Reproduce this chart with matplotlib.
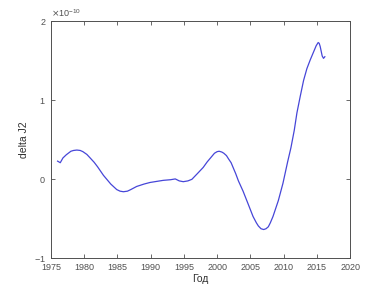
import numpy as np
import matplotlib
matplotlib.use('Agg')
import matplotlib.pyplot as plt
from matplotlib.ticker import ScalarFormatter

plt.rcParams['font.family'] = ['Liberation Sans', 'DejaVu Sans']

# values (delta J2 in units of 1e-10)
years = [1976.0, 1976.4, 1976.8, 1977.3, 1978.0, 1978.4, 1978.9, 1979.4, 1979.8, 1980.4,
         1980.9, 1981.5, 1982.0, 1982.9, 1984.0, 1984.9, 1985.4, 1985.9, 1986.5, 1987.0,
         1987.9, 1989.0, 1989.9, 1991.0, 1991.9, 1993.0, 1993.7, 1994.3, 1994.9, 1995.6,
         1996.2, 1997.0, 1997.9, 1998.5, 1999.2, 1999.6, 2000.0, 2000.3, 2000.7, 2001.0,
         2001.4, 2001.7, 2002.1, 2002.4, 2002.8, 2003.2, 2003.9, 2004.7, 2005.4, 2005.9,
         2006.2, 2006.6, 2007.0, 2007.35, 2007.7, 2008.0, 2008.4, 2008.8, 2009.2, 2009.9,
         2010.6, 2011.1, 2011.6, 2012.0, 2012.5, 2013.0, 2013.5, 2014.0, 2014.6, 2014.9,
         2015.2, 2015.35, 2015.5, 2015.8, 2016.0, 2016.2]
dj2 = [0.23, 0.21, 0.27, 0.31, 0.355, 0.365, 0.37, 0.365, 0.35, 0.315,
       0.27, 0.215, 0.16, 0.05, -0.06, -0.13, -0.15, -0.157, -0.15, -0.13,
       -0.09, -0.06, -0.04, -0.025, -0.013, -0.005, 0.005, -0.02, -0.03, -0.02,
       0.0, 0.07, 0.15, 0.22, 0.29, 0.33, 0.35, 0.355, 0.345, 0.33,
       0.3, 0.26, 0.21, 0.15, 0.07, -0.02, -0.15, -0.32, -0.47, -0.55,
       -0.59, -0.625, -0.635, -0.625, -0.6, -0.55, -0.47, -0.37, -0.27, -0.05,
       0.22, 0.4, 0.62, 0.84, 1.05, 1.25, 1.4, 1.51, 1.63, 1.69,
       1.73, 1.72, 1.68, 1.56, 1.53, 1.55]
xticks = [1975, 1980, 1985, 1990, 1995, 2000, 2005, 2010, 2015, 2020]
yticks = [-1, 0, 1, 2]

X = np.array(years)
Y = np.array(dj2) * 1e-10

fig = plt.figure(figsize=(3.86, 2.90), dpi=100)
ax = fig.add_axes([0.132, 0.109, 0.775, 0.818])
ax.plot(X, Y, '-', color='#4646d8', lw=0.9)
ax.set_xlim(1975, 2020)
ax.set_ylim(-1e-10, 2e-10)
ax.set_xticks(xticks)
ax.set_yticks([v * 1e-10 for v in yticks])
fmt = ScalarFormatter(useMathText=True)
fmt.set_powerlimits((0, 0))
ax.yaxis.set_major_formatter(fmt)
ax.yaxis.get_offset_text().set_fontsize(6.5)
ax.yaxis.get_offset_text().set_color('#505050')
ax.tick_params(direction='in', top=True, right=True, labelsize=6.5,
               colors='#505050', length=3, width=0.6)
for s in ax.spines.values():
    s.set_color('#505050'); s.set_linewidth(0.7)
ax.set_xlabel('Год', fontsize=7.5, color='#303030', labelpad=1)
ax.set_ylabel('delta J2', fontsize=7.5, color='#303030', labelpad=4)
fig.savefig('out.png', dpi=100)
